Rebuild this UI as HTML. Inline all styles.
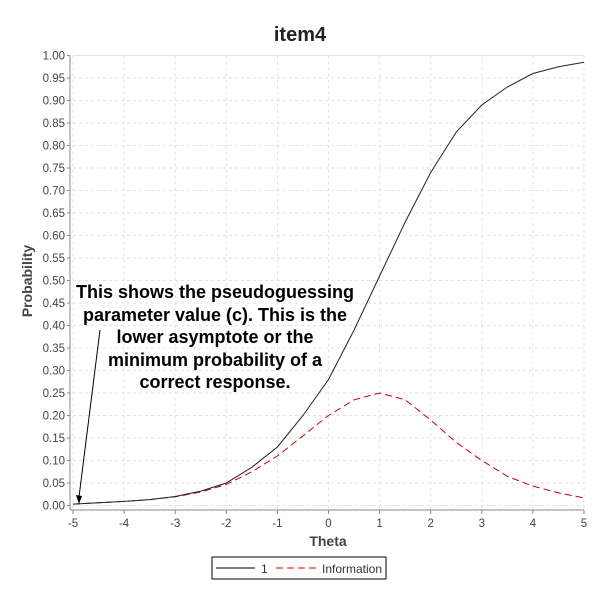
<!DOCTYPE html>
<html><head><meta charset="utf-8"><style>
body{margin:0;background:#fff;}
svg{font-family:"Liberation Sans",sans-serif;}
</style></head><body>
<svg id="c" width="600" height="600">
<rect width="600" height="600" fill="#fff"/>
<text x="300" y="41" text-anchor="middle" font-size="20" font-weight="bold" fill="#222">item4</text>
<g id="grid"></g><g id="axes"></g><g id="series"></g>
<text x="328" y="546" text-anchor="middle" font-size="14" font-weight="bold" fill="#444">Theta</text>
<text transform="translate(32,281) rotate(-90)" text-anchor="middle" font-size="14" font-weight="bold" fill="#444">Probability</text>
<g font-size="18" font-weight="bold" fill="#000" text-anchor="middle" style="white-space:pre">
<text x="215" y="298">This shows the pseudoguessing</text>
<text x="215" y="321">parameter value (c).  This is the</text>
<text x="215" y="343">lower asymptote or the</text>
<text x="215" y="366">minimum probability of a</text>
<text x="215" y="388">correct response.</text>
</g>
<line x1="100" y1="330" x2="79" y2="497" stroke="#000" stroke-width="1"/>
<polygon points="79,504 76,495 82,496" fill="#000"/>
<g>
<rect x="212" y="557" width="174" height="22" fill="#fff" stroke="#000"/>
<line x1="216" y1="568" x2="255" y2="568" stroke="#000"/>
<text x="261" y="573" font-size="12" fill="#333">1</text>
<line x1="276" y1="568" x2="316" y2="568" stroke="#c00" stroke-dasharray="7,4"/>
<text x="322" y="573" font-size="12" fill="#333">Information</text>
</g>
</svg>
<script>
const thetaVals=[-5,-4.5,-4,-3.5,-3,-2.5,-2,-1.5,-1,-0.5,0,0.5,1,1.5,2,2.5,3,3.5,4,4.5,5];
const probVals=[0.003,0.006,0.009,0.013,0.02,0.032,0.05,0.085,0.13,0.2,0.28,0.39,0.51,0.63,0.74,0.83,0.89,0.93,0.96,0.975,0.985];
const infoVals=[0.003,0.006,0.009,0.013,0.019,0.03,0.047,0.075,0.11,0.155,0.2,0.235,0.25,0.235,0.19,0.14,0.1,0.065,0.043,0.028,0.017];
const xTicks=[-5,-4,-3,-2,-1,0,1,2,3,4,5];
const yTicks=[0,0.05,0.1,0.15,0.2,0.25,0.3,0.35,0.4,0.45,0.5,0.55,0.6,0.65,0.7,0.75,0.8,0.85,0.9,0.95,1];
const X0=73,X1=584,Y0=505.5,Y1=55.5;
const sx=v=>X0+(v+5)/10*(X1-X0), sy=v=>Y0+(Y1-Y0)*v;
const NS="http://www.w3.org/2000/svg";
function mk(t,a,p){const e=document.createElementNS(NS,t);for(const k in a)e.setAttribute(k,a[k]);p.appendChild(e);return e;}
const grid=document.getElementById('grid'),axes=document.getElementById('axes'),ser=document.getElementById('series');
mk('rect',{x:X0,y:Y1,width:X1-X0,height:Y0-Y1+3,fill:'#fff'},grid);
xTicks.forEach(v=>{
 const g=mk('line',{x1:sx(v),x2:sx(v),y1:Y1,y2:Y0+3,stroke:'#e2e2e2','stroke-dasharray':'3,3'},grid);
 
 
 mk('line',{x1:sx(v),x2:sx(v),y1:510,y2:514,stroke:'#888'},axes);
 const t=mk('text',{x:sx(v),y:527,'text-anchor':'middle','font-size':11.5,fill:'#444'},axes);
 t.textContent=v;
 
 
});
yTicks.forEach(v=>{
 const g=mk('line',{x1:X0,x2:X1,y1:sy(v),y2:sy(v),stroke:'#e2e2e2','stroke-dasharray':'3,3'},grid);
 
 
 mk('line',{x1:67,x2:70,y1:sy(v),y2:sy(v),stroke:'#888'},axes);
 const t=mk('text',{x:65,y:sy(v)+4,'text-anchor':'end','font-size':11.5,fill:'#444'},axes);
 t.textContent=v.toFixed(2);
 
 
});
mk('line',{x1:70,x2:70,y1:Y1,y2:510,stroke:'#888'},axes);
mk('line',{x1:70,x2:X1,y1:510,y2:510,stroke:'#888'},axes);
mk('line',{x1:X0,x2:X1,y1:Y1,y2:Y1,stroke:'#e2e2e2'},grid);
const pth=(vals)=>thetaVals.map((t,i)=>(i?'L':'M')+sx(t).toFixed(1)+','+sy(vals[i]).toFixed(1)).join('');
const info=mk('path',{d:pth(infoVals),fill:'none',stroke:'#c00','stroke-width':1,'stroke-dasharray':'7,4'},ser);


const icc=mk('path',{d:pth(probVals),fill:'none',stroke:'#222','stroke-width':1},ser);


</script>
</body></html>
